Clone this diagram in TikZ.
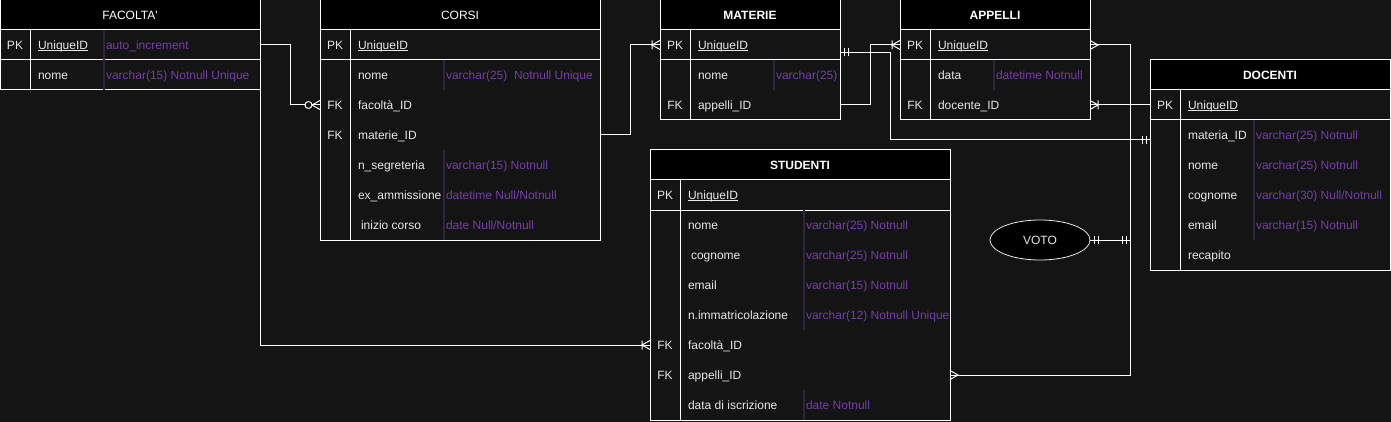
\documentclass[tikz,border=0pt]{standalone}
\usepackage{fontspec}
\setmainfont{Liberation Sans}[Ligatures=TeXOff]
\usetikzlibrary{shapes.geometric}
\definecolor{bgc}{HTML}{141414}
\definecolor{fgc}{HTML}{E8E8E8}
\definecolor{purp}{RGB}{118,62,170}
\definecolor{divc}{HTML}{2F2440}
\newcommand\bodyf{\fontsize{12pt}{14pt}\selectfont}
\newcommand\ulu[1]{\setbox0\hbox{#1}\rlap{\rule[-1.6pt]{\wd0}{0.9pt}}\box0}
\tikzset{
 tbox/.style={draw=white, line width=1pt, fill=bgc, anchor=north west, inner sep=0pt, outer sep=0pt},
 thead/.style={draw=white, line width=1pt, fill=black, anchor=north west, minimum height=30pt, inner sep=0pt, outer sep=0pt, text=white},
 tline/.style={draw=white, line width=1pt},
 tdiv/.style={draw=divc, line width=1.2pt},
 txt/.style={inner sep=0pt, outer sep=0pt, text height=10pt, text depth=1pt, font=\bodyf},
 keyst/.style={txt, anchor=center, text=fgc},
 fldst/.style={txt, anchor=west, text=fgc},
 typst/.style={txt, anchor=west, text=purp},
 conn/.style={draw=white, line width=1pt},
}
% table: name, x, y, width, height, title, font extra
\newcommand\ertable[7]{%
 \node[tbox, minimum width=#4pt, minimum height=#5pt] (#1) at (#2,#3) {};
 \node[thead, minimum width=#4pt, font=\bodyf#7] (#1H) at (#2,#3) {#6};
 \draw[tline] (#2,#3+60) -- (#2+#4,#3+60);
 \draw[tline] (#2+30,#3+30) -- (#2+30,#3+#5);
}
\newcommand\errow[5]{\node[keyst] (#1K) at (#2+15,#3) {#4}; \node[fldst] (#1) at (#2+38,#3) {#5};}
\newcommand\ertype[4]{\node[typst] (#1) at (#2+2,#3) {#4};}
% markers: coordinate, direction (+1 line goes to +x)
\newcommand\mkmandone[2]{\begin{scope}[shift={(#1)},xscale=#2]\draw[conn] (4,-4) -- (4,4) (8,-4) -- (8,4);\end{scope}}
\newcommand\mkmany[2]{\begin{scope}[shift={(#1)},xscale=#2]\draw[conn] (0,-4.5) -- (8,0) -- (0,4.5);\end{scope}}
\newcommand\mkonemany[2]{\begin{scope}[shift={(#1)},xscale=#2]\draw[conn] (0,-4.5) -- (8,0) -- (0,4.5) (8,-4.5) -- (8,4.5);\end{scope}}
\newcommand\mkzeromany[2]{\begin{scope}[shift={(#1)},xscale=#2]\draw[conn] (0,-4.5) -- (8,0) -- (0,4.5);\draw[conn,fill=bgc] (11.5,0) circle (3.5);\end{scope}}
\begin{document}
\begin{tikzpicture}[x=1pt,y=-1pt]
\path[fill=bgc] (0,0) rectangle (1391,422);
\useasboundingbox (0,0) rectangle (1391,422);

% ---------- FACOLTA'
\ertable{fac}{0}{0}{260}{90}{FACOLTA'}{}
\draw[tdiv] (104,30) -- (104,90);
\errow{facPK}{0}{45}{PK}{\ulu{UniqueID}}
\ertype{facPKt}{104}{45}{auto\_increment}
\errow{facNome}{0}{75}{}{nome}
\ertype{facNomet}{104}{75}{varchar(15) Notnull Unique}

% ---------- CORSI
\ertable{cor}{320}{0}{280}{240}{CORSI}{}
\draw[tdiv] (444,60) -- (444,90) (444,150) -- (444,240);
\errow{corPK}{320}{45}{PK}{\ulu{UniqueID}}
\errow{corNome}{320}{75}{}{nome}
\ertype{corNomet}{444}{75}{varchar(25) \ Notnull Unique}
\errow{corFac}{320}{105}{FK}{facoltà\_ID}
\errow{corMat}{320}{135}{FK}{materie\_ID}
\errow{corSeg}{320}{165}{}{n\_segreteria}
\ertype{corSegt}{444}{165}{varchar(15) Notnull}
\errow{corEx}{320}{195}{}{ex\_ammissione}
\ertype{corExt}{444}{195}{datetime Null/Notnull}
\errow{corIni}{320}{225}{}{\hspace{3pt}inizio corso}
\ertype{corInit}{444}{225}{date Null/Notnull}

% ---------- MATERIE
\ertable{mat}{660}{0}{180}{120}{MATERIE}{\bfseries}
\draw[tdiv] (774,60) -- (774,90);
\errow{matPK}{660}{45}{PK}{\ulu{UniqueID}}
\errow{matNome}{660}{75}{}{nome}
\ertype{matNomet}{774}{75}{varchar(25)}
\errow{matApp}{660}{105}{FK}{appelli\_ID}

% ---------- APPELLI
\ertable{app}{900}{0}{190}{120}{APPELLI}{\bfseries}
\draw[tdiv] (994,60) -- (994,90);
\errow{appPK}{900}{45}{PK}{\ulu{UniqueID}}
\errow{appData}{900}{75}{}{data}
\ertype{appDatat}{994}{75}{datetime Notnull}
\errow{appDoc}{900}{105}{FK}{docente\_ID}

% ---------- DOCENTI
\ertable{doc}{1150}{60}{240}{210}{DOCENTI}{\bfseries}
\draw[tdiv] (1254,120) -- (1254,240);
\errow{docPK}{1150}{105}{PK}{\ulu{UniqueID}}
\errow{docMat}{1150}{135}{}{materia\_ID}
\ertype{docMatt}{1254}{135}{varchar(25) Notnull}
\errow{docNome}{1150}{165}{}{nome}
\ertype{docNomet}{1254}{165}{varchar(25) Notnull}
\errow{docCog}{1150}{195}{}{cognome}
\ertype{docCogt}{1254}{195}{varchar(30) Null/Notnull}
\errow{docEmail}{1150}{225}{}{email}
\ertype{docEmailt}{1254}{225}{varchar(15) Notnull}
\errow{docRec}{1150}{255}{}{recapito}

% ---------- STUDENTI
\ertable{stu}{650}{150}{300}{270}{STUDENTI}{\bfseries}
\draw[tdiv] (804,210) -- (804,330) (804,390) -- (804,420);
\errow{stuPK}{650}{195}{PK}{\ulu{UniqueID}}
\errow{stuNome}{650}{225}{}{nome}
\ertype{stuNomet}{804}{225}{varchar(25) Notnull}
\errow{stuCog}{650}{255}{}{\hspace{3pt}cognome}
\ertype{stuCogt}{804}{255}{varchar(25) Notnull}
\errow{stuEmail}{650}{285}{}{email}
\ertype{stuEmailt}{804}{285}{varchar(15) Notnull}
\errow{stuImm}{650}{315}{}{n.immatricolazione}
\ertype{stuImmt}{804}{315}{varchar(12) Notnull Unique}
\errow{stuFac}{650}{345}{FK}{facoltà\_ID}
\errow{stuApp}{650}{375}{FK}{appelli\_ID}
\errow{stuData}{650}{405}{}{data di iscrizione}
\ertype{stuDatat}{804}{405}{date Notnull}

% ---------- VOTO
\node[ellipse, draw=fgc, line width=0.8pt, fill=black, minimum width=100pt, minimum height=40pt, inner sep=0pt, text=fgc, font=\bodyf] (voto) at (1040,240) {VOTO};

% ---------- connectors
\coordinate (j5a) at (890,52.5);
\coordinate (j5b) at (890,140);
\coordinate (j6) at (1130,240);
\coordinate (e1) at (cor.west |- corFac);
\coordinate (e2) at (stu.west |- stuFac);
\coordinate (e3) at (mat.west |- matPK);
\coordinate (e4) at (app.west |- appPK);
\coordinate (e5a) at (mat.east |- j5a);
\coordinate (e5b) at (doc.west |- j5b);
\coordinate (e6a) at (app.east |- appPK);
\coordinate (e6b) at (stu.east |- stuApp);
\coordinate (e7) at (app.east |- appDoc);

\draw[conn] (fac.east |- facPK) -- ++(30,0) |- (e1);
\draw[conn] (fac.south east) |- (e2);
\draw[conn] (cor.east |- corMat) -- ++(30,0) |- (e3);
\draw[conn] (mat.east |- matApp) -- ++(30,0) |- (e4);
\draw[conn] (e5a) -- (j5a) -- (j5b) -- (e5b);
\draw[conn] (e6a) -| (j6) |- (e6b);
\draw[conn] (e7) -- (doc.west |- appDoc);
\draw[conn] (voto.east) -- (j6);

\mkzeromany{e1}{-1}
\mkonemany{e2}{-1}
\mkonemany{e3}{-1}
\mkonemany{e4}{-1}
\mkmandone{e5a}{1}
\mkmandone{e5b}{-1}
\mkmany{e6a}{1}
\mkmany{e6b}{1}
\mkonemany{e7}{1}
\mkmandone{voto.east}{1}
\mkmandone{j6}{-1}
\end{tikzpicture}
\end{document}
